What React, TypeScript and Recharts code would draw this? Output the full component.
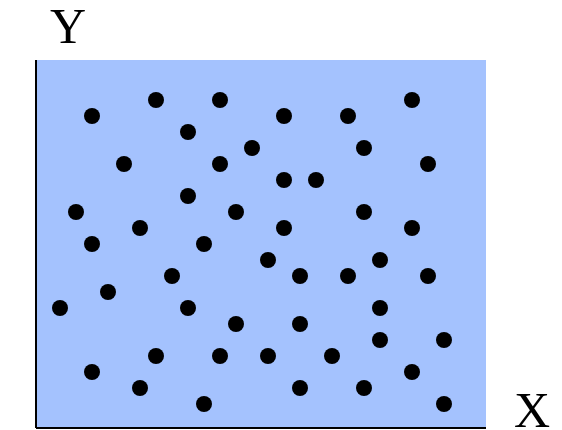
import React from 'react';
import { ScatterChart, Scatter, XAxis, YAxis, CartesianGrid, ReferenceLine } from 'recharts';

// Grid-unit coordinates of each dot
const xValues = [6, 10, 22, 2, 14, 18, 8, 12, 19, 4, 10, 23, 14, 16, 8, 1, 11, 19, 5, 14, 22, 2, 9, 13, 20, 7, 15, 18, 23, 3, 0, 8, 20, 11, 15, 20, 24, 6, 10, 13, 17, 2, 22, 5, 15, 19, 9, 24];
const yValues = [19, 19, 19, 18, 18, 18, 17, 16, 16, 15, 15, 15, 14, 14, 13, 12, 12, 12, 11, 11, 11, 10, 10, 9, 9, 8, 8, 8, 8, 7, 6, 6, 6, 5, 5, 4, 4, 3, 3, 3, 3, 2, 2, 1, 1, 1, 0, 0];
const xDomain = [-1.5, 26.625];
const yDomain = [-1.5, 21.5];
const xLabel = 'X';
const yLabel = 'Y';

const points = xValues.map((x, i) => ({ x, y: yValues[i] }));

const Dot = (props: any) => <circle cx={props.cx} cy={props.cy} r={8} fill="#000000" />;

export default function App() {
  return (
    <div style={{ position: 'fixed', left: 0, top: 0, width: 562, height: 430, background: '#ffffff' }}>
      <ScatterChart width={562} height={430} margin={{ top: 60, left: 36, right: 76, bottom: 2 }}>
        <CartesianGrid horizontal={false} vertical={false} fill="#a4c2fe" stroke="none" />
        <XAxis type="number" dataKey="x" domain={xDomain} allowDataOverflow hide />
        <YAxis type="number" dataKey="y" domain={yDomain} allowDataOverflow hide />
        <ReferenceLine x={xDomain[0]} stroke="#000000" strokeWidth={2} ifOverflow="visible" />
        <ReferenceLine y={yDomain[0]} stroke="#000000" strokeWidth={2} ifOverflow="visible" />
        <Scatter data={points} shape={Dot} isAnimationActive={false} />
      </ScatterChart>
      <svg width={562} height={430} style={{ position: 'absolute', left: 0, top: 0, pointerEvents: 'none' }}>
        <text x={68} y={43} textAnchor="middle" fontFamily="Liberation Serif" fontSize={50} fill="#000000">{yLabel}</text>
        <text x={532} y={427} textAnchor="middle" fontFamily="Liberation Serif" fontSize={50} fill="#000000">{xLabel}</text>
      </svg>
    </div>
  );
}
